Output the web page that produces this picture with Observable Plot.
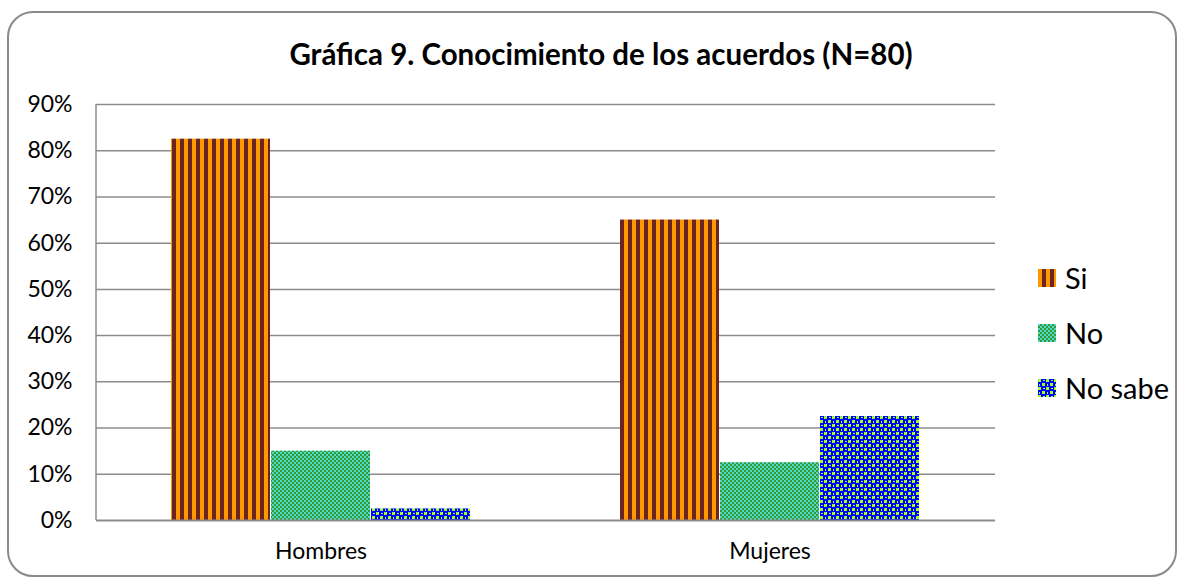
<!DOCTYPE html>
<html>
<head>
<meta charset="utf-8">
<script src="https://cdn.jsdelivr.net/npm/d3@7"></script>
<script src="https://cdn.jsdelivr.net/npm/@observablehq/plot@0.6"></script>
<style>
  html, body { margin: 0; padding: 0; background: #fff; }
  #wrap { position: relative; width: 1184px; height: 582px; overflow: hidden; font-family: Lato, "Open Sans", sans-serif; color: #000; }
  #frame { position: absolute; left: 7px; top: 11px; width: 1166px; height: 562px; border: 2px solid #8a8a8a; border-radius: 26px; box-sizing: content-box; }
  #title { position: absolute; left: 0; top: 34px; width: 1202px; text-align: center; font-weight: bold; font-size: 29.5px; line-height: 40px; }
  #chart { position: absolute; left: 0; top: 0; }
  #legend { position: absolute; left: 1038px; top: 250px; font-size: 29px; }
  .item { display: flex; align-items: center; height: 55px; }
  .item svg { margin-right: 9px; }
</style>
</head>
<body>
<div id="wrap">
  <div id="frame"></div>
  <div id="chart"></div>
  <div id="title"></div>
  <div id="legend"></div>
</div>
<script>
const title = "Gráfica 9. Conocimiento de los acuerdos (N=80)";
const groups = ["Hombres", "Mujeres"];
const series = ["Si", "No", "No sabe"];
const si = [0.825, 0.65];
const no = [0.15, 0.125];
const noSabe = [0.025, 0.225];
const yTicks = [0, 0.1, 0.2, 0.3, 0.4, 0.5, 0.6, 0.7, 0.8, 0.9];
const patternIds = ["pSi", "pNo", "pNoSabe"];

const values = [si, no, noSabe];
const rows = groups.flatMap((g, i) => series.map((s, j) => ({group: g, series: s, value: values[j][i]})));

const barW = 100;
const gridColor = "#8c8c8c";

const leftLine = (index, scales, vals, dims) => {
  const line = document.createElementNS("http://www.w3.org/2000/svg", "line");
  const x = dims.marginLeft;
  line.setAttribute("x1", x); line.setAttribute("x2", x);
  line.setAttribute("y1", scales.y(yTicks[yTicks.length - 1]));
  line.setAttribute("y2", scales.y(0));
  line.setAttribute("stroke", gridColor);
  line.setAttribute("stroke-width", 1.5);
  return line;
};

const chart = Plot.plot({
  width: 1184,
  height: 582,
  marginLeft: 96,
  marginRight: 189,
  marginTop: 104,
  marginBottom: 62,
  style: {fontFamily: "Lato, 'Open Sans', sans-serif", fontSize: "23px", color: "#000", background: "transparent", overflow: "visible"},
  x: {domain: groups, paddingInner: 1/3, paddingOuter: 1/6, label: null, tickSize: 0, tickPadding: 22},
  y: {domain: [0, 0.9], ticks: yTicks, tickFormat: d3.format(".0%"), label: null, tickSize: 0, tickPadding: 24},
  marks: [
    Plot.ruleY(yTicks.slice(1), {stroke: gridColor, strokeWidth: 1.5}),
    ...series.map((s, j) => Plot.barY(rows.filter(d => d.series === s), {
      x: "group", y: "value", fill: `url(#${patternIds[j]})`,
      insetLeft: j * barW, insetRight: (series.length - 1 - j) * barW
    })),
    Plot.ruleY([0], {stroke: gridColor, strokeWidth: 2}),
    leftLine
  ]
});

// Patterns
const defsSvg = `
<defs>
  <pattern id="pSi" patternUnits="userSpaceOnUse" width="8" height="8">
    <rect width="8" height="8" fill="#FF9900"/>
    <rect x="4" width="4" height="8" fill="#6B2420"/>
  </pattern>
  <pattern id="pNo" patternUnits="userSpaceOnUse" width="4" height="4">
    <rect width="4" height="4" fill="#3A9636"/>
    <rect width="2" height="2" fill="#48DCC6"/>
    <rect x="2" y="2" width="2" height="2" fill="#48DCC6"/>
  </pattern>
  <pattern id="pNoSabe" patternUnits="userSpaceOnUse" width="8" height="8">
    <rect width="8" height="8" fill="#0000FF"/>
    <rect x="0" y="0" width="3" height="3" fill="#99FF33"/>
    <rect x="4" y="4" width="3" height="3" fill="#99FF33"/>
    <rect x="5" y="1" width="2" height="1" fill="#99FF33"/>
    <rect x="1" y="5" width="1" height="2" fill="#99FF33"/>
  </pattern>
</defs>`;
const tmp = document.createElementNS("http://www.w3.org/2000/svg", "svg");
tmp.innerHTML = defsSvg;
chart.insertBefore(tmp.firstElementChild, chart.firstChild);

document.getElementById("chart").appendChild(chart);
document.getElementById("title").textContent = title;

const legend = document.getElementById("legend");
series.forEach((s, j) => {
  const item = document.createElement("div");
  item.className = "item";
  item.innerHTML = `<svg width="18" height="18"><rect width="18" height="18" fill="url(#${patternIds[j]})"/></svg><span>${s}</span>`;
  legend.appendChild(item);
});
</script>
</body>
</html>
